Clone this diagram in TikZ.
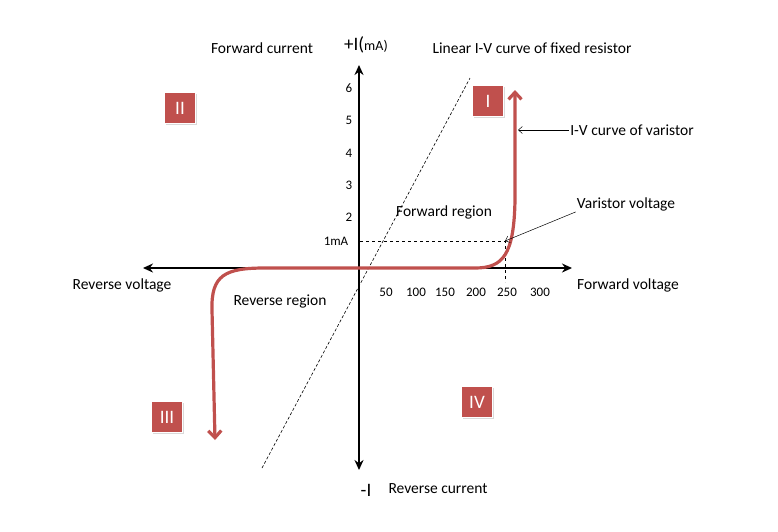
\documentclass[tikz,border=0pt]{standalone}
\usepackage{fontspec}
\setmainfont{Carlito}
\usetikzlibrary{arrows.meta,shadows}
\definecolor{vred}{RGB}{192,80,77}
\begin{document}
\begin{tikzpicture}[x=1pt,y=-1pt,
  lbl/.style={font=\fontsize{15.5}{17}\selectfont,inner sep=1pt},
  tick/.style={font=\fontsize{13}{15}\selectfont,inner sep=1pt},
  quad/.style={fill=vred,text=white,minimum width=31pt,minimum height=31pt,font=\fontsize{19}{21}\selectfont,drop shadow={opacity=0.3,shadow xshift=1pt,shadow yshift=-1pt},draw=white,line width=1.5pt},
  barb/.style={Straight Barb[length=7pt,width=13pt]},
  axis/.style={line width=1.8pt,-{Stealth[length=10pt,width=9pt]}}]
\useasboundingbox (0,0) rectangle (778,531);
\coordinate (O) at (359,268);
\coordinate (xl) at (143,268); \coordinate (xr) at (572,268);
\coordinate (yt) at (359,65); \coordinate (yb) at (359,470);
\draw[axis] (O) -- (xr); \draw[axis] (O) -- (xl);
\draw[axis] (O) -- (yt); \draw[axis] (O) -- (yb);
% resistor line
\coordinate (r1) at (262,468); \coordinate (r2) at (470,78);
\draw[densely dashed,line width=0.6pt] (r1) -- (r2);
% 1mA guides
\coordinate (g1) at (360,241); \coordinate (vv) at (505,241); \coordinate (g2) at (505,282);
\draw[dashed,line width=0.5pt] (g1) -- (vv) -- (g2);
% varistor curve
\draw[vred,line width=3.2pt,{Straight Barb[length=7pt,width=13pt]}-{Straight Barb[length=7pt,width=13pt]}] (215,440) -- (212,310) .. controls (211,275) and (225,268) .. (265,268) -- (475,268) .. controls (503,268) and (514,255) .. (515,200) -- (515,90);
% ticks
\foreach \t/\y in {6/88,5/120,4/153,3/185,2/217}{\node[tick] at (349,\y) {\t};}
\node[tick] at (336,241) {1mA};
\foreach \t/\x in {50/386,100/416,150/445,200/476,250/507,300/540}{\node[tick] at (\x,292) {\t};}
% labels
\node[lbl] (fc) at (262,48) {Forward current};
\node[lbl,font=\fontsize{19}{21}\selectfont] (pi) at (366,45) {+I(\fontsize{14}{16}\selectfont mA)};
\node[lbl] (lin) at (532,48) {Linear I-V curve of fixed resistor};
\node[lbl] (ivc) at (632,130) {I-V curve of varistor};
\node[lbl] (vvl) at (626,204) {Varistor voltage};
\node[lbl] (fr) at (444,212) {Forward region};
\node[lbl] (rr) at (280,301) {Reverse region};
\node[lbl] (rv) at (122,285) {Reverse voltage};
\node[lbl] (fv) at (628,285) {Forward voltage};
\node[lbl,font=\fontsize{19}{21}\selectfont] (mi) at (366,490) {-I};
\node[lbl] (rc) at (438,489) {Reverse current};
\coordinate (ca) at (518,130);
\draw[line width=0.5pt,-{Straight Barb[length=4pt,width=7pt]}] (ivc.west) -- (ca);
\draw[line width=0.5pt,-{Straight Barb[length=4pt,width=7pt]}] (vvl.south west) -- (vv);
% quadrant boxes
\node[quad] (q2) at (180,108) {II};
\node[quad] (q1) at (488,101) {I};
\node[quad] (q3) at (167,417) {III};
\node[quad] (q4) at (477,402) {IV};
\end{tikzpicture}
\end{document}
